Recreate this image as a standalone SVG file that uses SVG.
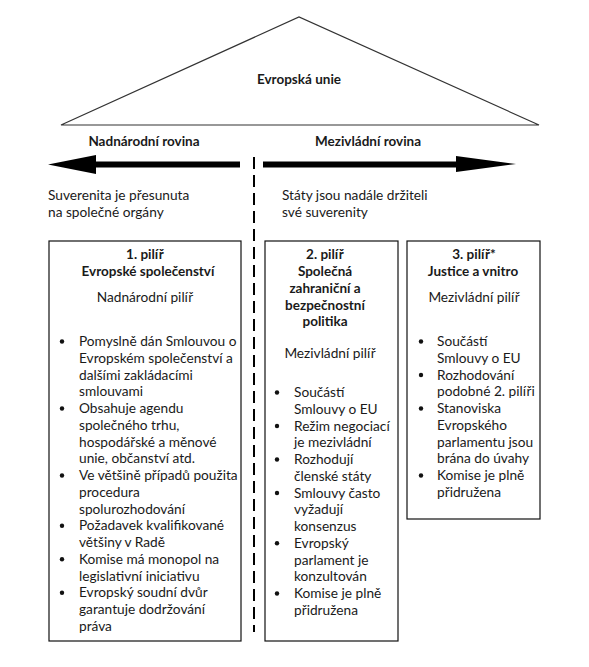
<svg xmlns="http://www.w3.org/2000/svg" width="589" height="667" viewBox="0 0 589 667">
<style>
text{font-family:Lato,"Liberation Sans",sans-serif;font-size:13.7px;fill:#1a1a1a}
.b{font-weight:bold;font-size:13.5px}
.c{text-anchor:middle}
.box{fill:#fff;stroke:#111;stroke-width:1.2}
.dot{fill:#111}
</style>
<rect width="589" height="667" fill="#fff"/>
<g id="eu">
<polygon points="61,125 299,17 539,125" fill="none" stroke="#333" stroke-width="1.2"/>
<text class="b c" x="299" y="84">Evropská unie</text>
</g>
<g id="levels">
<text class="b c" x="144" y="146">Nadnárodní rovina</text>
<text class="b c" x="368" y="146">Mezivládní rovina</text>
<text x="48" y="200">Suverenita je přesunuta</text>
<text x="48" y="217">na společné orgány</text>
<text x="282" y="200">Státy jsou nadále držiteli</text>
<text x="282" y="217">své suverenity</text>
</g>
<g id="connectors">
<polygon points="240,161.5 96,161.5 96,155 48,164.5 96,174 96,167.5 240,167.5" fill="#000"/>
<polygon points="263,161.5 456,161.5 456,156 516,164 456,172 456,167.5 263,167.5" fill="#000"/>
<line x1="254" y1="157" x2="254" y2="632" stroke="#000" stroke-width="2" stroke-dasharray="12 6"/>
</g>
<g id="pillar1">
<rect class="box" x="49" y="241" width="192" height="400"/>
<text class="b c" x="145" y="259">1. pilíř</text>
<text class="b c" x="148" y="276">Evropské společenství</text>
<text class="c" x="145" y="302">Nadnárodní pilíř</text>
<circle class="dot" cx="62" cy="341.5" r="2.2"/>
<circle class="dot" cx="62" cy="408.5" r="2.2"/>
<circle class="dot" cx="62" cy="475.5" r="2.2"/>
<circle class="dot" cx="62" cy="525.75" r="2.2"/>
<circle class="dot" cx="62" cy="559.25" r="2.2"/>
<circle class="dot" cx="62" cy="592.75" r="2.2"/>
<text x="79" y="346">Pomyslně dán Smlouvou o</text>
<text x="79" y="362.75">Evropském společenství a</text>
<text x="79" y="379.5">dalšími zakládacími</text>
<text x="79" y="396.25">smlouvami</text>
<text x="79" y="413">Obsahuje agendu</text>
<text x="79" y="429.75">společného trhu,</text>
<text x="79" y="446.5">hospodářské a měnové</text>
<text x="79" y="463.25">unie, občanství atd.</text>
<text x="79" y="480">Ve většině případů použita</text>
<text x="79" y="496.75">procedura</text>
<text x="79" y="513.5">spolurozhodování</text>
<text x="79" y="530.25">Požadavek kvalifikované</text>
<text x="79" y="547">většiny v Radě</text>
<text x="79" y="563.75">Komise má monopol na</text>
<text x="79" y="580.5">legislativní iniciativu</text>
<text x="79" y="597.25">Evropský soudní dvůr</text>
<text x="79" y="614">garantuje dodržování</text>
<text x="79" y="630.75">práva</text>
</g>
<g id="pillar2">
<rect class="box" x="265" y="241" width="133" height="400"/>
<text class="b c" x="325" y="259">2. pilíř</text>
<text class="b c" x="325" y="276">Společná</text>
<text class="b c" x="325" y="293">zahraniční a</text>
<text class="b c" x="325" y="310">bezpečnostní</text>
<text class="b c" x="325" y="326">politika</text>
<text class="c" x="330" y="358">Mezivládní pilíř</text>
<circle class="dot" cx="277" cy="392.5" r="2.2"/>
<circle class="dot" cx="277" cy="426" r="2.2"/>
<circle class="dot" cx="277" cy="459.5" r="2.2"/>
<circle class="dot" cx="277" cy="493" r="2.2"/>
<circle class="dot" cx="277" cy="543.25" r="2.2"/>
<circle class="dot" cx="277" cy="593.5" r="2.2"/>
<text x="294" y="397">Součástí</text>
<text x="294" y="413.75">Smlouvy o EU</text>
<text x="294" y="430.5">Režim negociací</text>
<text x="294" y="447.25">je mezivládní</text>
<text x="294" y="464">Rozhodují</text>
<text x="294" y="480.75">členské státy</text>
<text x="294" y="497.5">Smlouvy často</text>
<text x="294" y="514.25">vyžadují</text>
<text x="294" y="531">konsenzus</text>
<text x="294" y="547.75">Evropský</text>
<text x="294" y="564.5">parlament je</text>
<text x="294" y="581.25">konzultován</text>
<text x="294" y="598">Komise je plně</text>
<text x="294" y="614.75">přidružena</text>
</g>
<g id="pillar3">
<rect class="box" x="407" y="241" width="133" height="278"/>
<text class="b c" x="474" y="259">3. pilíř*</text>
<text class="b c" x="473" y="276">Justice a vnitro</text>
<text class="c" x="474" y="302">Mezivládní pilíř</text>
<circle class="dot" cx="421" cy="341.5" r="2.2"/>
<circle class="dot" cx="421" cy="375" r="2.2"/>
<circle class="dot" cx="421" cy="408.5" r="2.2"/>
<circle class="dot" cx="421" cy="475.5" r="2.2"/>
<text x="437" y="346">Součástí</text>
<text x="437" y="362.75">Smlouvy o EU</text>
<text x="437" y="379.5">Rozhodování</text>
<text x="437" y="396.25">podobné 2. pilíři</text>
<text x="437" y="413">Stanoviska</text>
<text x="437" y="429.75">Evropského</text>
<text x="437" y="446.5">parlamentu jsou</text>
<text x="437" y="463.25">brána do úvahy</text>
<text x="437" y="480">Komise je plně</text>
<text x="437" y="496.75">přidružena</text>
</g>
</svg>
